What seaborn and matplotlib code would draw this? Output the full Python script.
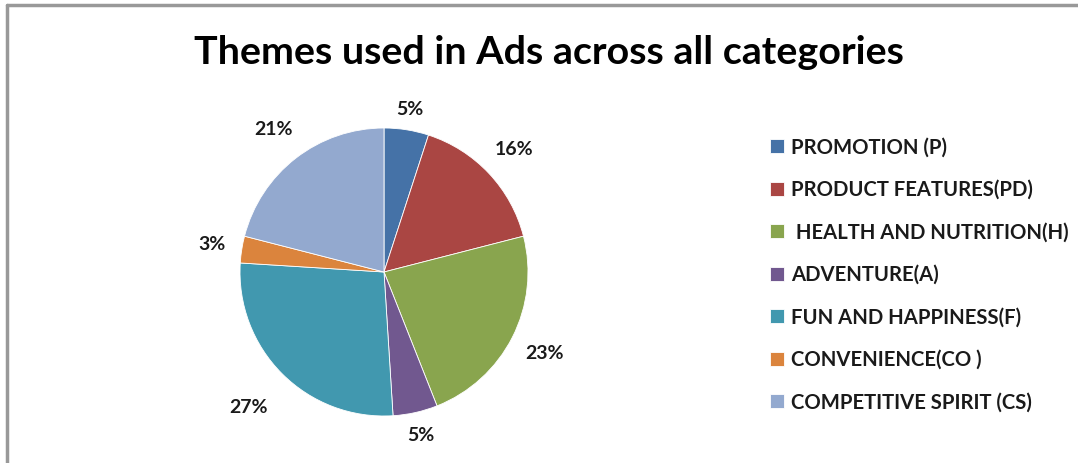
import matplotlib
matplotlib.use("Agg")
import matplotlib.pyplot as plt
from matplotlib.lines import Line2D
import numpy as np
import seaborn as sns

categories = ["PROMOTION (P)", "PRODUCT FEATURES(PD)", " HEALTH AND NUTRITION(H)",
              "ADVENTURE(A)", "FUN AND HAPPINESS(F)", "CONVENIENCE(CO )",
              "COMPETITIVE SPIRIT (CS)"]
values = [5, 16, 23, 5, 27, 3, 21]
title = "Themes used in Ads across all categories"
colors = ["#4572A7", "#AA4643", "#89A54E", "#71588F", "#4198AF", "#DB843D", "#93A9CF"]
# distance of each percentage label from the centre (in pie radii)
label_dist = [1.14, 1.24, 1.25, 1.16, 1.33, 1.21, 1.25]

sns.set_theme(style="white")
plt.rcParams['font.family'] = ['Lato', 'DejaVu Sans']

W, H = 1078, 463
fig = plt.figure(figsize=(W / 100, H / 100), dpi=100)
fig.patch.set_facecolor("white")

cx, cy, r = 384, 272, 144
ax = fig.add_axes([(cx - r) / W, (H - cy - r) / H, 2 * r / W, 2 * r / H])
palette = sns.color_palette(colors)
wedges, texts, autotexts = ax.pie(
    values, colors=palette, startangle=90, counterclock=False,
    autopct=lambda p: f"{p:.0f}%", pctdistance=1.2, radius=1,
    wedgeprops=dict(edgecolor="white", linewidth=0.6),
    textprops=dict(fontsize=14, fontweight="bold", color="#1a1a1a"))
for w, t, d in zip(wedges, autotexts, label_dist):
    ang = np.deg2rad((w.theta1 + w.theta2) / 2)
    t.set_position((d * np.cos(ang), d * np.sin(ang)))
ax.set_xlim(-1, 1)
ax.set_ylim(-1, 1)
ax.set_aspect("equal")
ax.axis("off")

fig.text(549 / W, 1 - 52 / H, title, ha="center", va="center",
         fontsize=28.4, fontweight="bold", color="black")

leg = fig.legend(wedges, categories, loc="upper left",
                 bbox_to_anchor=(752 / W, 1 - 119 / H), frameon=False,
                 prop=dict(size=14.6, weight="bold"), labelspacing=1.11,
                 handlelength=0.68, handleheight=0.68, handletextpad=0.35)
for t in leg.get_texts():
    t.set_color("#1a1a1a")

fig.add_artist(Line2D([7 / W, 1], [1 - 5 / H, 1 - 5 / H], color="#999999", lw=2.5))
fig.add_artist(Line2D([7 / W, 7 / W], [0, 1 - 5 / H], color="#999999", lw=2.5))

fig.savefig("out.png", dpi=100, facecolor="white")
